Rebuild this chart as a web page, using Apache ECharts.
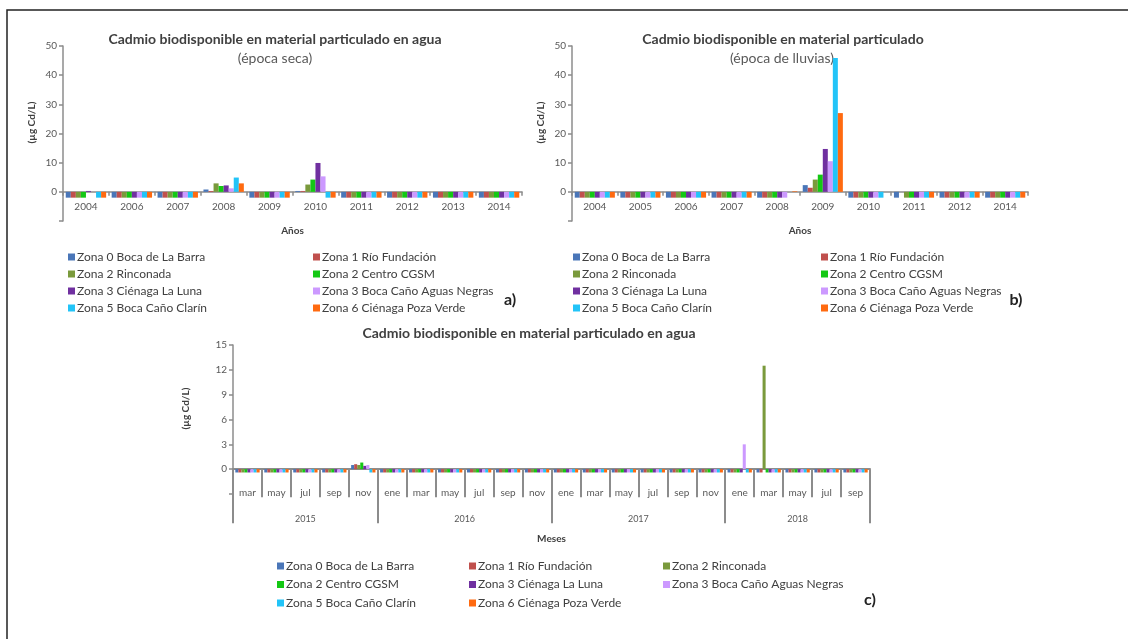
<!DOCTYPE html>
<html>
<head>
<meta charset="utf-8">
<script src="https://cdn.jsdelivr.net/npm/echarts@6/dist/echarts.min.js"></script>
<style>
  html, body { margin: 0; padding: 0; background: #fff; }
  #chart { width: 1128px; height: 639px; }
</style>
</head>
<body>
<div id="chart"></div>
<script>
// Zones sampled and their colours
const ZONAS = [
  'Zona 0 Boca de La Barra',
  'Zona 1 Río Fundación',
  'Zona 2 Rinconada',
  'Zona 2 Centro CGSM',
  'Zona 3 Ciénaga La Luna',
  'Zona 3 Boca Caño Aguas Negras',
  'Zona 5 Boca Caño Clarín',
  'Zona 6 Ciénaga Poza Verde'
];
const COLORES = ['#4a76b8', '#c0504d', '#7a9a3c', '#14c814', '#7030a0', '#cc99ff', '#22c4f8', '#ff6a10'];

// a) dry season, µg Cd/L (negative bars = below detection)
const ANOS_SECA = ['2004', '2006', '2007', '2008', '2009', '2010', '2011', '2012', '2013', '2014'];
const SECA_Z0 = [-2, -2, -2, 0.8, -2, 0.3, -2, -2, -2, -2];
const SECA_Z1 = [-2, -2, -2, 0.3, -2, 0.3, -2, -2, -2, -2];
const SECA_Z2R = [-2, -2, -2, 2.9, -2, 2.5, -2, -2, -2, -2];
const SECA_Z2C = [-2, -2, -2, 2.0, -2, 4.2, -2, -2, -2, -2];
const SECA_Z3L = [0.3, -2, -2, 2.2, -2, 9.9, -2, -2, -2, -2];
const SECA_Z3B = [0, -2, -2, 1.2, -2, 5.3, -2, -2, -2, -2];
const SECA_Z5 = [-2, -2, -2, 4.9, -2, -2, -2, -2, -2, -2];
const SECA_Z6 = [-2, -2, -2, 2.9, -2, -2, -2, -2, -2, -2];

// b) rainy season
const ANOS_LLUVIAS = ['2004', '2005', '2006', '2007', '2008', '2009', '2010', '2011', '2012', '2014'];
const LLUV_Z0 = [-2, -2, -2, -2, -2, 2.3, -2, -2, -2, -2];
const LLUV_Z1 = [-2, -2, -2, -2, -2, 1.4, -2, 0, -2, -2];
const LLUV_Z2R = [-2, -2, -2, -2, -2, 4.2, -2, -2, -2, -2];
const LLUV_Z2C = [-2, -2, -2, -2, -2, 5.9, -2, -2, -2, -2];
const LLUV_Z3L = [-2, -2, -2, -2, -2, 14.7, -2, -2, -2, -2];
const LLUV_Z3B = [-2, -2, -2, -2, -2, 10.5, -2, -2, -2, -2];
const LLUV_Z5 = [-2, -2, -2, -2, 0, 45.9, -2, -2, -2, -2];
const LLUV_Z6 = [-2, -2, -2, -2, 0.2, 27, 0, -2, -2, -2];

// c) monthly sampling 2015-2018
const PERIODOS = [
  'mar 2015', 'may 2015', 'jul 2015', 'sep 2015', 'nov 2015',
  'ene 2016', 'mar 2016', 'may 2016', 'jul 2016', 'sep 2016', 'nov 2016',
  'ene 2017', 'mar 2017', 'may 2017', 'jul 2017', 'sep 2017', 'nov 2017',
  'ene 2018', 'mar 2018', 'may 2018', 'jul 2018', 'sep 2018'
];
const MES_Z0 = [-0.4, -0.4, -0.4, -0.4, 0.5, -0.4, -0.4, -0.4, -0.4, -0.4, -0.4, -0.4, -0.4, -0.4, -0.4, -0.4, -0.4, -0.4, -0.4, -0.4, -0.4, -0.4];
const MES_Z1 = [-0.4, -0.4, -0.4, -0.4, 0.6, -0.4, -0.4, -0.4, -0.4, -0.4, -0.4, -0.4, -0.4, -0.4, -0.4, -0.4, -0.4, -0.4, -0.4, -0.4, -0.4, -0.4];
const MES_Z2R = [-0.4, -0.4, -0.4, -0.4, 0.5, -0.4, -0.4, -0.4, -0.4, -0.4, -0.4, -0.4, -0.4, -0.4, -0.4, -0.4, -0.4, -0.4, 12.5, -0.4, -0.4, -0.4];
const MES_Z2C = [-0.4, -0.4, -0.4, -0.4, 0.8, -0.4, -0.4, -0.4, -0.4, -0.4, -0.4, -0.4, -0.4, -0.4, -0.4, -0.4, -0.4, -0.4, -0.4, -0.4, -0.4, -0.4];
const MES_Z3L = [-0.4, -0.4, -0.4, -0.4, 0.4, -0.4, -0.4, -0.4, -0.4, -0.4, -0.4, -0.4, -0.4, -0.4, -0.4, -0.4, -0.4, -0.4, -0.4, -0.4, -0.4, -0.4];
const MES_Z3B = [-0.4, -0.4, -0.4, -0.4, 0.5, -0.4, -0.4, -0.4, -0.4, -0.4, -0.4, -0.4, -0.4, -0.4, -0.4, -0.4, -0.4, 3.0, -0.4, -0.4, -0.4, -0.4];
const MES_Z5 = [-0.4, -0.4, -0.4, -0.4, -0.4, -0.4, -0.4, -0.4, -0.4, -0.4, -0.4, -0.4, -0.4, -0.4, -0.4, -0.4, -0.4, -0.4, -0.4, -0.4, -0.4, -0.4];
const MES_Z6 = [-0.4, -0.4, -0.4, -0.4, -0.4, -0.4, -0.4, -0.4, -0.4, -0.4, -0.4, -0.4, -0.4, -0.4, -0.4, -0.4, -0.4, -0.4, -0.4, -0.4, -0.4, -0.4];

const SECA = [SECA_Z0, SECA_Z1, SECA_Z2R, SECA_Z2C, SECA_Z3L, SECA_Z3B, SECA_Z5, SECA_Z6];
const LLUVIAS = [LLUV_Z0, LLUV_Z1, LLUV_Z2R, LLUV_Z2C, LLUV_Z3L, LLUV_Z3B, LLUV_Z5, LLUV_Z6];
const MENSUAL = [MES_Z0, MES_Z1, MES_Z2R, MES_Z2C, MES_Z3L, MES_Z3B, MES_Z5, MES_Z6];

// Year blocks of the monthly axis, derived from the period labels
const anoDe = p => p.split(' ')[1];
const LIMITES = [0];
const CENTROS = [];
const ANOS_MES = [];
PERIODOS.forEach((p, i) => {
  if (i > 0 && anoDe(p) !== anoDe(PERIODOS[i - 1])) LIMITES.push(i);
});
LIMITES.push(PERIODOS.length);
for (let k = 0; k < LIMITES.length - 1; k++) {
  CENTROS.push((LIMITES[k] + LIMITES[k + 1]) / 2);
  ANOS_MES.push(anoDe(PERIODOS[LIMITES[k]]));
}

const FONT = 'Lato, "Liberation Sans", sans-serif';
const GRIS = '#8c8c8c';
const TXT = '#595959';

const chart = echarts.init(document.getElementById('chart'), null, { renderer: 'canvas' });

function yAxisDef(grid, min, max, interval, nameGap) {
  return {
    type: 'value', gridIndex: grid, min, max, interval,
    name: '(µg Cd/L)', nameLocation: 'middle', nameGap, nameRotate: 90,
    nameTextStyle: { fontFamily: FONT, fontSize: 10, fontWeight: 'bold', color: '#404040', padding: [0, 0, 0, 22] },
    axisLine: { show: true, onZero: false, lineStyle: { color: GRIS, width: 1.5 } },
    axisTick: { show: true, length: 4, lineStyle: { color: GRIS, width: 1.5 } },
    axisLabel: { fontFamily: FONT, fontSize: 10, color: TXT, margin: 6, formatter: v => (v < 0 ? '' : String(v)) },
    splitLine: { show: false }
  };
}

function yearAxisDef(grid, cats) {
  return {
    type: 'category', gridIndex: grid, data: cats,
    name: 'Años', nameLocation: 'middle', nameGap: 5,
    nameTextStyle: { fontFamily: FONT, fontSize: 10, fontWeight: 'bold', color: '#404040' },
    axisLine: { show: true, onZero: true, lineStyle: { color: GRIS, width: 1.5 } },
    axisTick: { show: true, length: 4, interval: 0, lineStyle: { color: GRIS, width: 1.5 } },
    axisLabel: { fontFamily: FONT, fontSize: 10, color: TXT, margin: -19, interval: 0 }
  };
}

const series = [];
function addSeries(values, xi, yi, catGap) {
  values.forEach((vals, z) => {
    series.push({
      type: 'bar', name: ZONAS[z], xAxisIndex: xi, yAxisIndex: yi,
      data: vals, barGap: '0%', barCategoryGap: catGap,
      itemStyle: { color: COLORES[z] }
    });
  });
}
addSeries(SECA, 0, 0, '12%');
addSeries(LLUVIAS, 1, 1, '12%');
addSeries(MENSUAL, 2, 2, '16%');

function legendDef(left, top, idx, gap) {
  return {
    orient: 'vertical', left, top, icon: 'rect', itemWidth: 7, itemHeight: 7,
    itemGap: gap, selectedMode: false,
    data: idx.map(i => ZONAS[i]),
    textStyle: { fontFamily: FONT, fontSize: 12, color: '#404040', padding: [0, 0, 0, -3] }
  };
}

function texto(x, y, text, size, weight, color) {
  return {
    type: 'text', x, y,
    style: { text, fill: color, font: `${weight} ${size}px ${FONT}`, textAlign: 'center', textVerticalAlign: 'middle' }
  };
}

chart.setOption({
  animation: false,
  backgroundColor: '#ffffff',
  grid: [
    { left: 63, top: 46, width: 459, height: 175 },
    { left: 572, top: 46, width: 456, height: 175 },
    { left: 233, top: 345, width: 637, height: 149 }
  ],
  xAxis: [
    yearAxisDef(0, ANOS_SECA),
    yearAxisDef(1, ANOS_LLUVIAS),
    {
      type: 'category', gridIndex: 2, data: PERIODOS,
      axisLine: { show: true, onZero: true, lineStyle: { color: GRIS, width: 2 } },
      axisTick: { show: true, length: 28, interval: 0, lineStyle: { color: GRIS, width: 2 } },
      axisLabel: { fontFamily: FONT, fontSize: 10, color: TXT, margin: -6, interval: 0, formatter: v => v.split(' ')[0] }
    },
    {
      type: 'value', gridIndex: 2, min: 0, max: PERIODOS.length, position: 'bottom',
      name: 'Meses', nameLocation: 'middle', nameGap: 40,
      nameTextStyle: { fontFamily: FONT, fontSize: 10, fontWeight: 'bold', color: '#404040' },
      axisLine: { show: false, onZero: true, onZeroAxisIndex: 2 },
      axisTick: { show: true, length: 54, customValues: LIMITES, lineStyle: { color: GRIS, width: 2 } },
      axisLabel: {
        fontFamily: FONT, fontSize: 9, color: TXT, margin: 21, customValues: CENTROS,
        formatter: v => ANOS_MES[CENTROS.indexOf(v)] || ''
      },
      splitLine: { show: false }
    }
  ],
  yAxis: [
    yAxisDef(0, -10, 50, 10, 26),
    yAxisDef(1, -10, 50, 10, 26),
    yAxisDef(2, -3, 15, 3, 42)
  ],
  legend: [
    legendDef(63, 246, [0, 2, 4, 6], 5),
    legendDef(308, 246, [1, 3, 5, 7], 5),
    legendDef(568, 246, [0, 2, 4, 6], 5),
    legendDef(816, 246, [1, 3, 5, 7], 5),
    legendDef(272, 555, [0, 3, 6], 6.5),
    legendDef(464, 555, [1, 4, 7], 6.5),
    legendDef(658, 555, [2, 5], 6.5)
  ],
  series,
  graphic: [
    { type: 'rect', shape: { x: 7, y: 10, width: 1130, height: 640 }, style: { fill: null, stroke: '#222', lineWidth: 1.5 }, silent: true },
    texto(275, 39, 'Cadmio biodisponible en material particulado en agua', 14, 'bold', '#404040'),
    texto(275, 58, '(época seca)', 14, 'normal', TXT),
    texto(783, 39, 'Cadmio biodisponible en material particulado', 14, 'bold', '#404040'),
    texto(782, 58, '(época de lluvias)', 14, 'normal', TXT),
    texto(529, 333, 'Cadmio biodisponible en material particulado en agua', 14, 'bold', '#404040'),
    texto(510, 300, 'a)', 16, 'bold', '#222'),
    texto(1016, 300, 'b)', 16, 'bold', '#222'),
    texto(870, 600, 'c)', 16, 'bold', '#222')
  ]
});
</script>
</body>
</html>
